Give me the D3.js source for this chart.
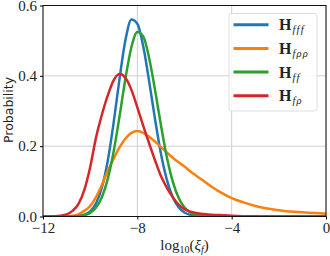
<!DOCTYPE html>
<html>
  <head>
    <meta charset="utf-8" />
    <style>
      body { margin: 0; background: #fff; }
      svg text { fill: #222; }
    </style>
  </head>
  <body>
    <div id="plot"></div>
    <script src="https://cdn.jsdelivr.net/npm/d3@7"></script>
    <script>
      // values
      const xVals = [-12, -11.5, -11, -10.75, -10.5, -10.25, -10, -9.75, -9.5, -9.25, -9, -8.75,
        -8.5, -8.25, -8, -7.75, -7.5, -7.25, -7, -6.75, -6.5, -6.25, -6, -5.75, -5.5, -5,
        -4.5, -4, -3.5, -3, -2.5, -2, -1.5, -1, -0.5, 0];
      const hFff = [0, 0, 0.0001, 0.0005, 0.0015, 0.0051, 0.0148, 0.0376, 0.0831, 0.16, 0.269, 0.394,
        0.503, 0.56, 0.548, 0.484, 0.385, 0.277, 0.179, 0.105, 0.0554, 0.0264, 0.0113, 0.0044, 0.0015, 0.0002,
        0, 0, 0, 0, 0, 0, 0, 0, 0, 0];
      const hFpp = [0, 0, 0.0005, 0.002, 0.006, 0.016, 0.03, 0.055, 0.09, 0.13, 0.165, 0.197,
        0.222, 0.238, 0.243, 0.238, 0.227, 0.213, 0.198, 0.182, 0.167, 0.154, 0.142, 0.128, 0.116, 0.092,
        0.07, 0.052, 0.04, 0.03, 0.023, 0.018, 0.014, 0.012, 0.01, 0.008];
      const hFf = [0, 0, 0.0001, 0.0004, 0.0012, 0.0038, 0.0103, 0.0254, 0.0554, 0.1076, 0.186, 0.287,
        0.394, 0.482, 0.525, 0.512, 0.451, 0.36, 0.26, 0.169, 0.1, 0.0534, 0.0258, 0.0113, 0.0045, 0.0005,
        0, 0, 0, 0, 0, 0, 0, 0, 0, 0];
      const hFp = [0, 0.0005, 0.006, 0.016, 0.035, 0.075, 0.14, 0.225, 0.29, 0.345, 0.388, 0.405,
        0.394, 0.36, 0.31, 0.258, 0.208, 0.16, 0.115, 0.082, 0.055, 0.034, 0.021, 0.014, 0.01, 0.006,
        0.004, 0.002, 0.001, 0.0005, 0, 0, 0, 0, 0, 0];

      const seriesNames = ["fff", "fρρ", "ff", "fρ"];
      const seriesColors = ["#1f77b4", "#ff7f0e", "#2ca02c", "#d62728"];
      const xTicks = [-12, -8, -4, 0];
      const yTicks = [0, 0.2, 0.4, 0.6];

      const width = 330, height = 256;
      const series = [hFff, hFpp, hFf, hFp].map((vals, i) => ({
        name: seriesNames[i],
        color: seriesColors[i],
        points: xVals.map((x, j) => ({ x: x, y: vals[j] }))
      }));

      const svg = d3.select("#plot").append("svg")
        .attr("width", width)
        .attr("height", height);

      const x = d3.scaleLinear().domain([-12, 0]).range([43, 326]);
      const y = d3.scaleLinear().domain([0, 0.6]).range([216.5, 5.5]);

      const serif = "'Liberation Serif', 'DejaVu Serif', serif";

      // grid
      const grid = svg.append("g");
      grid.selectAll("line.gx").data(xTicks).enter().append("line")
        .attr("x1", d => x(d)).attr("x2", d => x(d))
        .attr("y1", y(0)).attr("y2", y(0.6))
        .attr("stroke", "#cfcfcf").attr("stroke-width", 1);
      grid.selectAll("line.gy").data(yTicks).enter().append("line")
        .attr("x1", x(-12)).attr("x2", x(0))
        .attr("y1", d => y(d)).attr("y2", d => y(d))
        .attr("stroke", "#cfcfcf").attr("stroke-width", 1);

      svg.append("clipPath").attr("id", "clip")
        .append("rect")
        .attr("x", x(-12)).attr("y", y(0.6))
        .attr("width", x(0) - x(-12)).attr("height", y(0) - y(0.6));

      const line = d3.line()
        .x(d => x(d.x))
        .y(d => y(d.y))
        .curve(d3.curveMonotoneX);

      svg.append("g").attr("clip-path", "url(#clip)")
        .selectAll("path").data(series).enter().append("path")
        .attr("d", d => line(d.points))
        .attr("fill", "none")
        .attr("stroke", d => d.color)
        .attr("stroke-width", 2.5)
        .attr("stroke-linejoin", "round");

      // frame
      svg.append("rect")
        .attr("x", x(-12)).attr("y", y(0.6))
        .attr("width", x(0) - x(-12)).attr("height", y(0) - y(0.6))
        .attr("fill", "none").attr("stroke", "#111").attr("stroke-width", 1);

      // axes
      const xAxis = svg.append("g")
        .attr("transform", `translate(0,${y(0)})`)
        .call(d3.axisBottom(x).tickValues(xTicks).tickSize(3).tickPadding(3)
          .tickFormat(d => d < 0 ? "\u2212" + Math.abs(d) : d));
      xAxis.select(".domain").remove();
      xAxis.selectAll("text").attr("font-family", serif).attr("font-size", 15).attr("fill", "#222");

      const yAxis = svg.append("g")
        .attr("transform", `translate(${x(-12)},0)`)
        .call(d3.axisLeft(y).tickValues(yTicks).tickSize(3).tickPadding(3)
          .tickFormat(d3.format(".1f")));
      yAxis.select(".domain").remove();
      yAxis.selectAll("text").attr("font-family", serif).attr("font-size", 15).attr("fill", "#222");

      // axis labels
      svg.append("text")
        .attr("transform", "translate(13,110) rotate(-90)")
        .attr("text-anchor", "middle")
        .attr("font-family", "'DejaVu Sans', sans-serif")
        .attr("font-size", 12.5)
        .text("Probability");

      const xl = svg.append("text")
        .attr("x", (x(-12) + x(0)) / 2)
        .attr("y", 250)
        .attr("text-anchor", "middle")
        .attr("font-family", serif)
        .attr("font-size", 15);
      xl.append("tspan").text("log");
      xl.append("tspan").attr("font-size", 10).attr("dy", 3).text("10");
      xl.append("tspan").attr("dy", -3).text("(");
      xl.append("tspan").attr("font-style", "italic").text("ξ");
      xl.append("tspan").attr("font-style", "italic").attr("font-size", 10).attr("dy", 3).text("f");
      xl.append("tspan").attr("dy", -3).text(")");

      // legend
      const legend = svg.append("g");
      legend.append("rect")
        .attr("x", 229).attr("y", 13.5)
        .attr("width", 88).attr("height", 97.5)
        .attr("rx", 2.5)
        .attr("fill", "#fff").attr("fill-opacity", 0.8)
        .attr("stroke", "#ddd").attr("stroke-width", 1);

      const rows = legend.selectAll("g.row").data(series).enter().append("g")
        .attr("transform", (d, i) => `translate(0,${24.7 + i * 23.7})`);
      rows.append("line")
        .attr("x1", 233.5).attr("x2", 268.5)
        .attr("stroke", d => d.color).attr("stroke-width", 3);
      const lt = rows.append("text")
        .attr("x", 279).attr("y", 5.5)
        .attr("font-family", serif)
        .attr("font-size", 16);
      lt.append("tspan").attr("font-weight", "bold").text("H");
      lt.append("tspan").attr("font-style", "italic").attr("font-size", 10.5).attr("dy", 3)
        .attr("letter-spacing", 1.2).attr("dx", 1)
        .text(d => d.name);
    </script>
  </body>
</html>
